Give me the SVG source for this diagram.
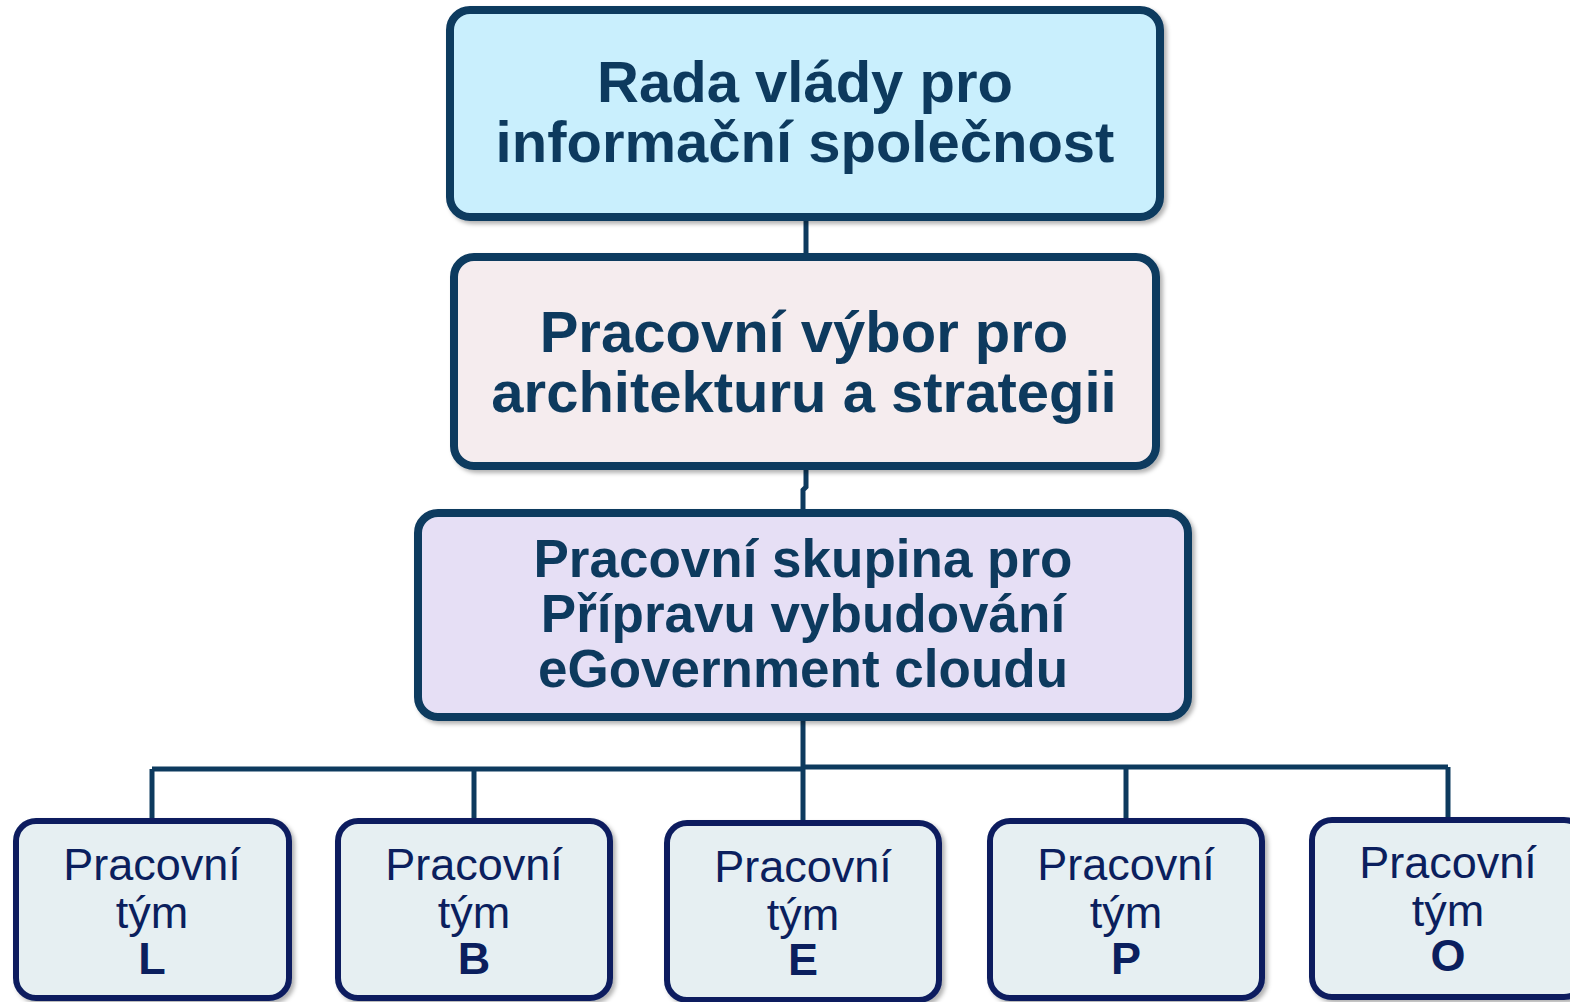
<svg xmlns="http://www.w3.org/2000/svg" width="1570" height="1002" viewBox="0 0 1570 1002">
<defs>
<filter id="sh" x="-5%" y="-5%" width="112%" height="115%">
<feDropShadow dx="3" dy="3" stdDeviation="2" flood-color="#000" flood-opacity="0.3"/>
</filter>
<style>
.top{stroke:#0d3a5e;stroke-width:8;filter:url(#sh)}
.low{fill:#e6eff2;stroke:#0b1f5e;stroke-width:6;filter:url(#sh)}
.tb{font-family:"Liberation Sans",Arial,sans-serif;font-weight:bold;fill:#0d3a5e;text-anchor:middle}
.tl{font-family:"Liberation Sans",Arial,sans-serif;font-size:45px;fill:#0b1f5e;text-anchor:middle}
.tl .b{font-weight:bold}
.con{fill:none;stroke:#0d3a5e;stroke-width:5}
</style>
</defs>
<rect width="1570" height="1002" fill="#fff"/>
<g id="connectors">
<line class="con" x1="806" y1="217" x2="806" y2="257"/>
<path class="con" d="M806 466 L806 487 L803 490 L803 513"/>
<line class="con" x1="803" y1="717" x2="803" y2="823"/>
<line class="con" x1="152" y1="769" x2="803" y2="769"/>
<line class="con" x1="803" y1="767" x2="1448" y2="767"/>
<line class="con" x1="152" y1="769" x2="152" y2="821"/>
<line class="con" x1="474" y1="769" x2="474" y2="821"/>
<line class="con" x1="1126" y1="767" x2="1126" y2="821"/>
<line class="con" x1="1448" y1="767" x2="1448" y2="820"/>
</g>
<g id="rada">
<rect class="top" x="450" y="10" width="710" height="207" rx="20" fill="#c9effd"/>
<text class="tb" font-size="58"><tspan x="805" y="102">Rada vlády pro</tspan><tspan x="805" y="162">informační společnost</tspan></text>
</g>
<g id="vybor">
<rect class="top" x="454" y="257" width="702" height="209" rx="20" fill="#f5ecee"/>
<text class="tb" font-size="58"><tspan x="804" y="352">Pracovní výbor pro</tspan><tspan x="804" y="412">architekturu a strategii</tspan></text>
</g>
<g id="skupina">
<rect class="top" x="418" y="513" width="770" height="204" rx="20" fill="#e6dff5"/>
<text class="tb" font-size="53"><tspan x="803" y="577">Pracovní skupina pro</tspan><tspan x="803" y="632">Přípravu vybudování</tspan><tspan x="803" y="687">eGovernment cloudu</tspan></text>
</g>
<g id="tym-L">
<rect class="low" x="16" y="821" width="273" height="177" rx="20"/>
<text class="tl"><tspan x="152" y="880">Pracovní</tspan><tspan x="152" y="928">tým</tspan><tspan class="b" x="152" y="974">L</tspan></text>
</g>
<g id="tym-B">
<rect class="low" x="338" y="821" width="272" height="177" rx="20"/>
<text class="tl"><tspan x="474" y="880">Pracovní</tspan><tspan x="474" y="928">tým</tspan><tspan class="b" x="474" y="974">B</tspan></text>
</g>
<g id="tym-E">
<rect class="low" x="667" y="823" width="272" height="177" rx="20"/>
<text class="tl"><tspan x="803" y="882">Pracovní</tspan><tspan x="803" y="930">tým</tspan><tspan class="b" x="803" y="975">E</tspan></text>
</g>
<g id="tym-P">
<rect class="low" x="990" y="821" width="272" height="177" rx="20"/>
<text class="tl"><tspan x="1126" y="880">Pracovní</tspan><tspan x="1126" y="928">tým</tspan><tspan class="b" x="1126" y="974">P</tspan></text>
</g>
<g id="tym-O">
<rect class="low" x="1312" y="820" width="272" height="177" rx="20"/>
<text class="tl"><tspan x="1448" y="878">Pracovní</tspan><tspan x="1448" y="926">tým</tspan><tspan class="b" x="1448" y="971">O</tspan></text>
</g>
</svg>
